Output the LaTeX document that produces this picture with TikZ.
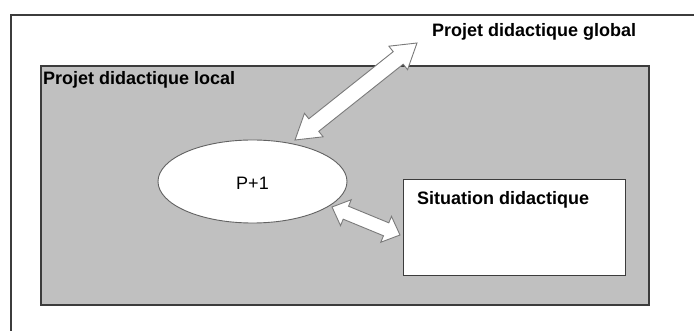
\documentclass[tikz,border=0pt]{standalone}
\usepackage{fontspec}
\setmainfont{Liberation Sans}
\usetikzlibrary{calc,shapes.geometric}
\definecolor{panelgray}{HTML}{C0C0C0}
\definecolor{framegray}{HTML}{3C3C3C}
\definecolor{arrowedge}{HTML}{7A7A7A}
\newcommand{\dblarr}[5]{% from, to, shaft half, head half, head length
  \coordinate (ha) at ($(#1)!#5!(#2)$);
  \coordinate (hb) at ($(#2)!#5!(#1)$);
  \draw[arrowstyle] (#1) -- ($(ha)!#4!90:(#2)$) -- ($(ha)!#3!90:(#2)$)
    -- ($(hb)!#3!-90:(#1)$) -- ($(hb)!#4!-90:(#1)$) -- (#2)
    -- ($(hb)!#4!90:(#1)$) -- ($(hb)!#3!90:(#1)$)
    -- ($(ha)!#3!-90:(#2)$) -- ($(ha)!#4!-90:(#2)$) -- cycle;}
\tikzset{
  bigfont/.style={font=\fontsize{18}{21}\selectfont},
  boldlabel/.style={font=\fontsize{18}{21}\selectfont\bfseries, inner sep=0pt, anchor=base west},
  arrowstyle/.style={draw=arrowedge, fill=white, line width=0.9pt, line join=miter},
}
\begin{document}
\begin{tikzpicture}[x=1pt,y=-1pt]
\useasboundingbox (0,0) rectangle (694,331);
% outer frame (open on right and bottom)
\draw[framegray, line width=1.6pt] (11,331) -- (11,15) -- (694,15);
% local project panel
\node[draw=framegray, fill=panelgray, line width=1.8pt, minimum width=608pt, minimum height=239pt, anchor=north west, inner sep=0pt] (local) at (40,65) {};
% situation box
\node[draw=framegray, fill=white, line width=1.3pt, minimum width=222pt, minimum height=96pt, anchor=north west, inner sep=0pt] (situ) at (403,179) {};
% ellipse
\node[ellipse, draw=arrowedge!80!black, fill=white, line width=0.9pt, minimum width=189pt, minimum height=83pt, inner sep=0pt] (p1) at (252.5,181.5) {};
\node[bigfont, inner sep=0pt, anchor=base] (p1label) at (252.5,190) {P+1};
% labels
\node[boldlabel] (glob) at (432,37) {Projet didactique global};
\node[boldlabel] (loc) at (43,85) {Projet didactique local};
\node[boldlabel] (sitlabel) at (417,205) {Situation didactique};
% arrows
\coordinate (a1s) at (295,140);
\coordinate (a1e) at (417,43);
\coordinate (a2s) at (332,207);
\coordinate (a2e) at (400,235);
\dblarr{a1s}{a1e}{8pt}{15pt}{24pt}
\dblarr{a2s}{a2e}{7pt}{14pt}{15pt}
\end{tikzpicture}
\end{document}
